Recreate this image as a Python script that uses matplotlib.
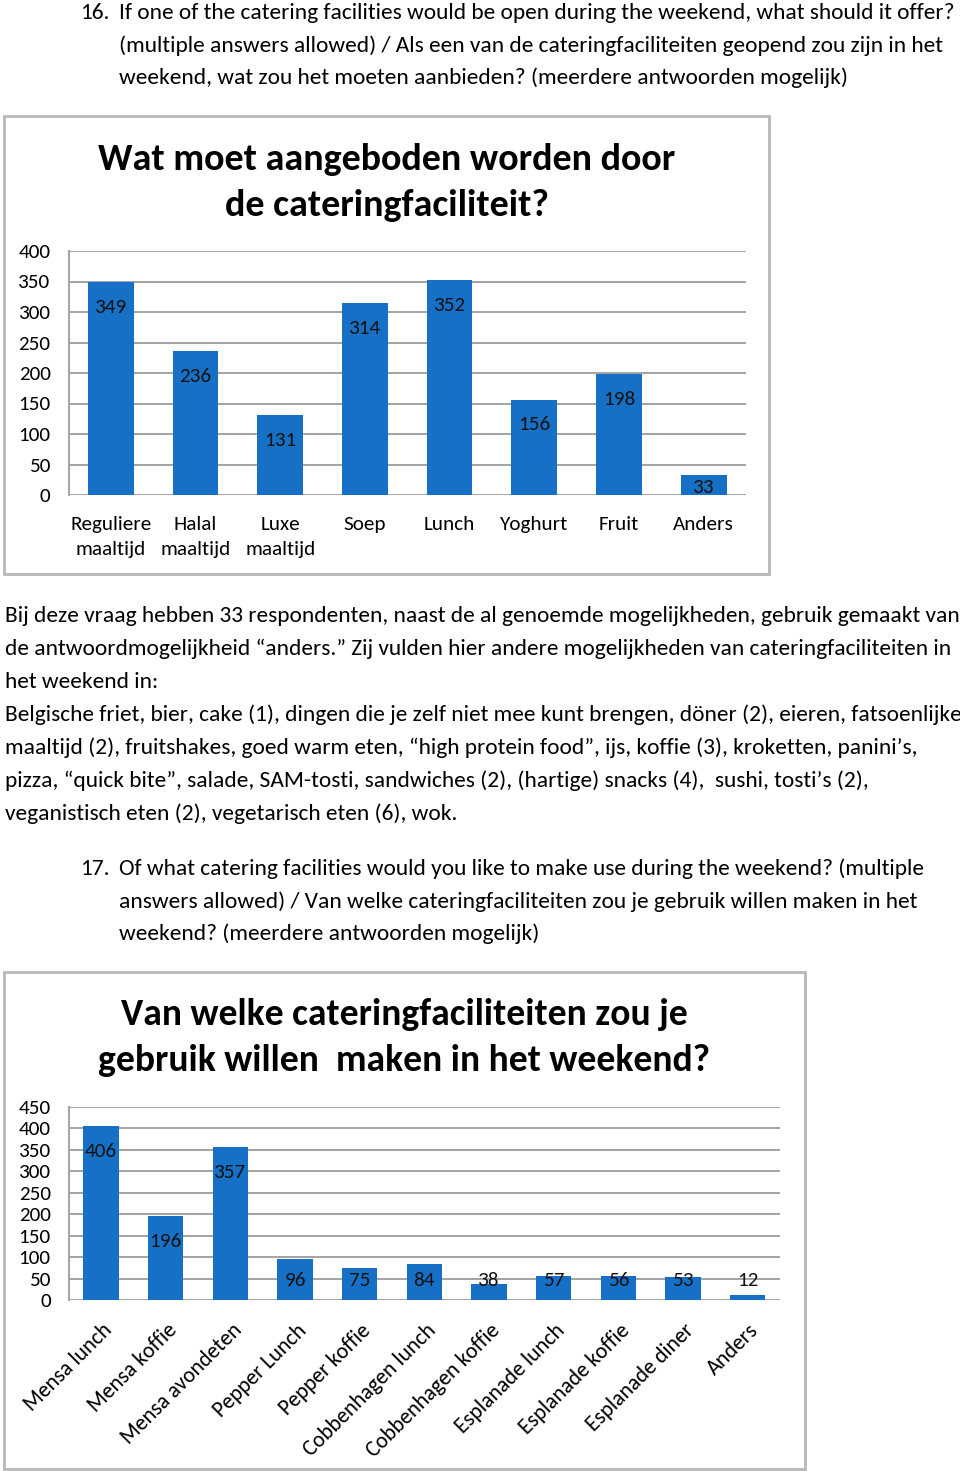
import matplotlib
matplotlib.use('Agg')
import matplotlib.pyplot as plt
from matplotlib import font_manager
from matplotlib.patches import Rectangle

# question 16 chart
q16_labels = ['Reguliere\nmaaltijd', 'Halal\nmaaltijd', 'Luxe\nmaaltijd', 'Soep', 'Lunch',
              'Yoghurt', 'Fruit', 'Anders']
q16_counts = [349, 236, 131, 314, 352, 156, 198, 33]
q16_title = ['Wat moet aangeboden worden door', 'de cateringfaciliteit?']
q16_yticks = [0, 50, 100, 150, 200, 250, 300, 350, 400]

# question 17 chart
q17_labels = ['Mensa lunch', 'Mensa koffie', 'Mensa avondeten', 'Pepper Lunch', 'Pepper koffie',
              'Cobbenhagen lunch', 'Cobbenhagen koffie', 'Esplanade lunch', 'Esplanade koffie',
              'Esplanade diner', 'Anders']
q17_counts = [406, 196, 357, 96, 75, 84, 38, 57, 56, 53, 12]
q17_title = ['Van welke cateringfaciliteiten zou je', 'gebruik willen  maken in het weekend?']
q17_yticks = [0, 50, 100, 150, 200, 250, 300, 350, 400, 450]

q16_text = ['If one of the catering facilities would be open during the weekend, what should it offer?',
            '(multiple answers allowed) / Als een van de cateringfaciliteiten geopend zou zijn in het',
            'weekend, wat zou het moeten aanbieden? (meerdere antwoorden mogelijk)']
q17_text = ['Of what catering facilities would you like to make use during the weekend? (multiple',
            'answers allowed) / Van welke cateringfaciliteiten zou je gebruik willen maken in het',
            'weekend? (meerdere antwoorden mogelijk)']
paragraph = [
    'Bij deze vraag hebben 33 respondenten, naast de al genoemde mogelijkheden, gebruik gemaakt van',
    'de antwoordmogelijkheid \u201canders.\u201d Zij vulden hier andere mogelijkheden van cateringfaciliteiten in',
    'het weekend in:',
    'Belgische friet, bier, cake (1), dingen die je zelf niet mee kunt brengen, d\u00f6ner (2), eieren, fatsoenlijke',
    'maaltijd (2), fruitshakes, goed warm eten, \u201chigh protein food\u201d, ijs, koffie (3), kroketten, panini\u2019s,',
    'pizza, \u201cquick bite\u201d, salade, SAM-tosti, sandwiches (2), (hartige) snacks (4),  sushi, tosti\u2019s (2),',
    'veganistisch eten (2), vegetarisch eten (6), wok.',
]

names = {f.name for f in font_manager.fontManager.ttflist}
narrow = next((n for n in ['Carlito', 'Liberation Sans Narrow', 'Lato'] if n in names), 'DejaVu Sans')
body = next((n for n in ['Carlito', 'Lato', 'Open Sans'] if n in names), 'DejaVu Sans')

bar_color = '#1670c5'
grid_color = '#a3a3a3'
box_color = '#b8b8b8'

W, H = 960, 1471
fig = plt.figure(figsize=(W / 100, H / 100), dpi=100)
renderer = fig.canvas.get_renderer()


def fy(y):
    return 1 - y / H


def fit_size(s, width, family, weight='normal'):
    t = fig.text(0, 0, s, fontsize=20, family=family, weight=weight)
    w = t.get_window_extent(renderer).width
    t.remove()
    return 20 * width / w


def axes_px(l, t, r, b):
    return fig.add_axes([l / W, 1 - b / H, (r - l) / W, (b - t) / H])


# text blocks
hs = fit_size(q16_text[0], 836, narrow)
fig.text(80 / W, fy(19), '16.', fontsize=hs, family=narrow, va='baseline')
for i, line in enumerate(q16_text):
    fig.text(119 / W, fy(19 + 32.5 * i), line, fontsize=hs, family=narrow, va='baseline')

ps = fit_size(paragraph[0], 952, body)
for i, line in enumerate(paragraph):
    fig.text(5 / W, fy(622 + 33 * i), line, fontsize=ps, family=body, va='baseline')

hs2 = fit_size(q17_text[0], 804, narrow)
fig.text(80 / W, fy(875), '17.', fontsize=hs2, family=narrow, va='baseline')
for i, line in enumerate(q17_text):
    fig.text(119 / W, fy(875 + 32.5 * i), line, fontsize=hs2, family=narrow, va='baseline')

# chart frames
fig.patches.append(Rectangle((4 / W, fy(574)), 765 / W, 458 / H, transform=fig.transFigure,
                             fill=False, edgecolor=box_color, lw=2))
fig.patches.append(Rectangle((4 / W, fy(1469)), 801 / W, 497 / H, transform=fig.transFigure,
                             fill=False, edgecolor=box_color, lw=2))

ts = fit_size(q16_title[0], 577, narrow, 'bold')
fig.text(387 / W, fy(170), q16_title[0], fontsize=ts, family=narrow, weight='bold', ha='center', va='baseline')
fig.text(387 / W, fy(216), q16_title[1], fontsize=ts, family=narrow, weight='bold', ha='center', va='baseline')

ts2 = fit_size(q17_title[0], 568, narrow, 'bold')
fig.text(404 / W, fy(1025), q17_title[0], fontsize=ts2, family=narrow, weight='bold', ha='center', va='baseline')
fig.text(404 / W, fy(1071), q17_title[1], fontsize=ts2, family=narrow, weight='bold', ha='center', va='baseline')

cs = fit_size('Reguliere', 81, narrow)


def style_axes(ax, yticks):
    ax.set_ylim(0, yticks[-1])
    ax.set_yticks(yticks)
    ax.grid(axis='y', color=grid_color, lw=1.4)
    ax.set_axisbelow(True)
    for side in ['top', 'right', 'bottom']:
        ax.spines[side].set_visible(False)
    ax.spines['left'].set_color(grid_color)
    ax.spines['left'].set_linewidth(1.4)
    ax.tick_params(axis='both', length=0, labelsize=cs)
    ax.tick_params(axis='y', pad=13)
    for lbl in ax.get_yticklabels():
        lbl.set_family(narrow)


# chart 16
ax1 = axes_px(68.6, 251, 746, 495)
x1 = range(len(q16_counts))
ax1.bar(x1, q16_counts, width=0.54, color=bar_color, zorder=2)
ax1.set_xlim(-0.5, len(q16_counts) - 0.5)
style_axes(ax1, q16_yticks)
ax1.set_xticks(list(x1))
ax1.set_xticklabels(q16_labels, family=narrow, fontsize=cs, linespacing=1.55)
ax1.tick_params(axis='x', pad=15)
for i, v in enumerate(q16_counts):
    ax1.text(i, max(v - 25 / 0.61, 8 / 0.61), str(v), ha='center', va='center',
             fontsize=cs, family=narrow, color='#111111', zorder=3)

# chart 17
ax2 = axes_px(68.7, 1107, 780, 1300)
x2 = range(len(q17_counts))
ax2.bar(x2, q17_counts, width=0.55, color=bar_color, zorder=2)
ax2.set_xlim(-0.5, len(q17_counts) - 0.5)
style_axes(ax2, q17_yticks)
ax2.set_xticks([])
for i, v in enumerate(q17_counts):
    ax2.text(i, max(v - 26 / 0.4289, 20 / 0.4289), str(v), ha='center', va='center',
             fontsize=cs, family=narrow, color='#111111', zorder=3)
    ax2.annotate(q17_labels[i], xy=(i, 0), xytext=(1, -20), textcoords='offset pixels',
                 rotation=45, ha='right', va='top', rotation_mode='anchor',
                 fontsize=cs * 1.04, family=narrow)

fig.savefig('out.png', dpi=100)
